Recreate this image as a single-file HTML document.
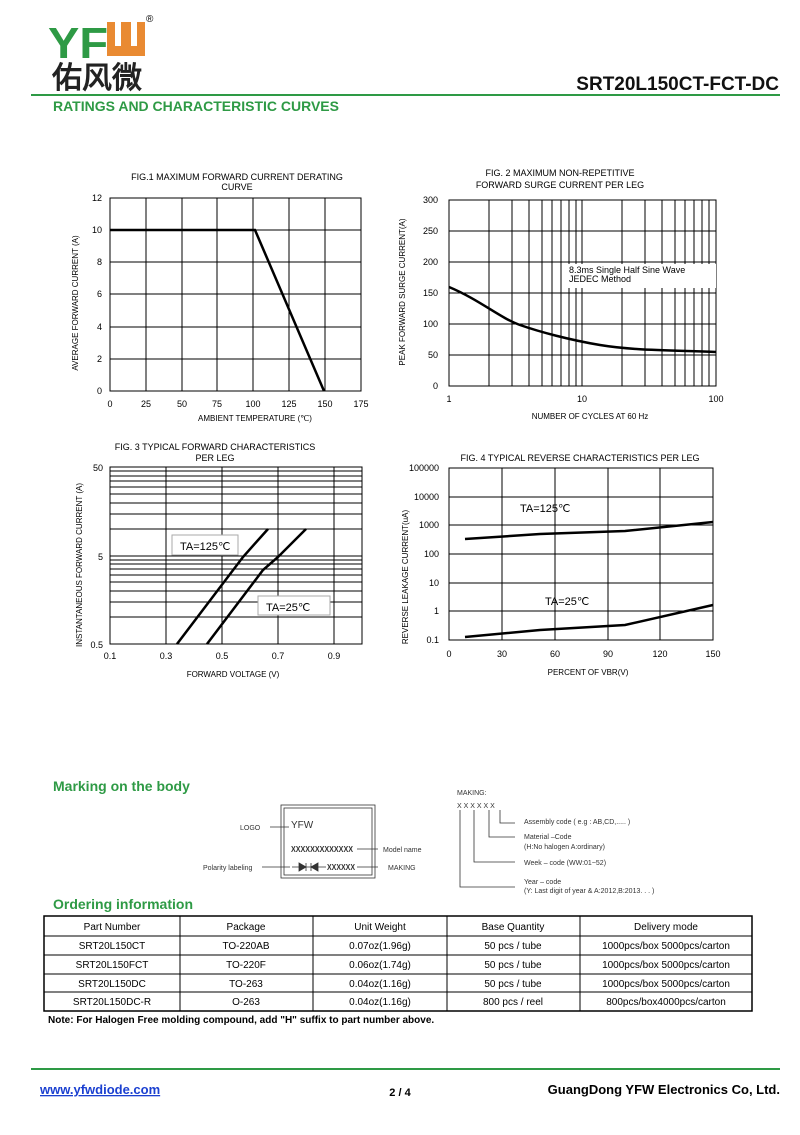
<!DOCTYPE html>
<html><head><meta charset="utf-8"><style>
body{margin:0;background:#fff}
svg text{font-family:"Liberation Sans",Arial,sans-serif}
</style></head><body>
<svg width="800" height="1130" viewBox="0 0 800 1130" xmlns="http://www.w3.org/2000/svg">
<!-- header -->
<text x="48" y="58" font-size="44" font-weight="bold" fill="#2e9a45" textLength="60" lengthAdjust="spacingAndGlyphs">YF</text>
<rect x="107" y="22" width="38" height="34" fill="#e98a32"/>
<rect x="115" y="22" width="6" height="24" fill="#fff"/><rect x="131" y="22" width="6" height="24" fill="#fff"/>
<text x="146" y="22" font-size="10">®</text>
<text x="52" y="88" font-size="30" font-family="'Noto Sans CJK SC',sans-serif" font-weight="bold" fill="#222">佑风微</text>
<text x="779" y="90" font-size="19" font-weight="bold" text-anchor="end" fill="#111">SRT20L150CT-FCT-DC</text>
<line x1="31" y1="95" x2="780" y2="95" stroke="#2e9a45" stroke-width="2"/>
<text x="53" y="111" font-size="14" font-weight="bold" fill="#2e9a45">RATINGS AND CHARACTERISTIC CURVES</text>

<g font-size="9" fill="#000" stroke-linecap="butt">
<!-- FIG1 -->
<text x="237" y="180" text-anchor="middle">FIG.1 MAXIMUM FORWARD CURRENT DERATING</text>
<text x="237" y="190" text-anchor="middle">CURVE</text>
<g stroke="#000" stroke-width="1" fill="none">
<rect x="110" y="198" width="251" height="193"/>
<path d="M146 198V391M182 198V391M217 198V391M253 198V391M289 198V391M325 198V391M110 230H361M110 262H361M110 294H361M110 327H361M110 359H361"/>
</g>
<path d="M110 230H255L324 391" stroke="#000" stroke-width="2.5" fill="none"/>
<g text-anchor="end"><text x="102" y="201">12</text><text x="102" y="233">10</text><text x="102" y="265">8</text><text x="102" y="297">6</text><text x="102" y="330">4</text><text x="102" y="362">2</text><text x="102" y="394">0</text></g>
<g text-anchor="middle"><text x="110" y="407">0</text><text x="146" y="407">25</text><text x="182" y="407">50</text><text x="217" y="407">75</text><text x="253" y="407">100</text><text x="289" y="407">125</text><text x="325" y="407">150</text><text x="361" y="407">175</text>
<text x="255" y="421" font-size="8">AMBIENT TEMPERATURE (℃)</text></g>
<text transform="translate(78 303) rotate(-90)" text-anchor="middle" font-size="8">AVERAGE FORWARD CURRENT (A)</text>

<!-- FIG2 -->
<text x="560" y="176" text-anchor="middle">FIG. 2 MAXIMUM NON-REPETITIVE</text>
<text x="560" y="188" text-anchor="middle">FORWARD SURGE CURRENT PER LEG</text>
<g stroke="#000" stroke-width="1" fill="none">
<rect x="449" y="200" width="267" height="186"/>
<path d="M489 200V386M512 200V386M529 200V386M542 200V386M552 200V386M561 200V386M569 200V386M576 200V386M582 200V386M622 200V386M645 200V386M662 200V386M675 200V386M685 200V386M694 200V386M702 200V386M709 200V386M449 231H716M449 262H716M449 293H716M449 324H716M449 355H716"/>
</g>
<rect x="566" y="264" width="150" height="24" fill="#fff"/>
<text x="569" y="273">8.3ms Single Half Sine Wave</text>
<text x="569" y="282">JEDEC Method</text>
<path d="M449 287C480 300 500 318 520 325S570 340 600 345S660 350 716 352" stroke="#000" stroke-width="2.5" fill="none"/>
<g text-anchor="end"><text x="438" y="203">300</text><text x="438" y="234">250</text><text x="438" y="265">200</text><text x="438" y="296">150</text><text x="438" y="327">100</text><text x="438" y="358">50</text><text x="438" y="389">0</text></g>
<g text-anchor="middle"><text x="449" y="402">1</text><text x="582" y="402">10</text><text x="716" y="402">100</text><text x="590" y="419" font-size="8">NUMBER OF CYCLES AT 60 Hz</text></g>
<text transform="translate(405 292) rotate(-90)" text-anchor="middle" font-size="8">PEAK FORWARD SURGE CURRENT(A)</text>

<!-- FIG3 -->
<text x="215" y="450" text-anchor="middle">FIG. 3 TYPICAL FORWARD CHARACTERISTICS</text>
<text x="215" y="461" text-anchor="middle">PER LEG</text>
<g stroke="#000" stroke-width="1" fill="none">
<rect x="110" y="467" width="252" height="177"/>
<path d="M166 467V644M222 467V644M278 467V644M334 467V644M110 471H362M110 476H362M110 481H362M110 487H362M110 494H362M110 503H362M110 514H362M110 529H362M110 556H362M110 560H362M110 564H362M110 569H362M110 575H362M110 582H362M110 591H362M110 602H362M110 617H362"/>
</g>
<path d="M177 644L243 557L268 529M207 644L263 570L278 557L306 529" stroke="#000" stroke-width="2.5" fill="none"/>
<rect x="172" y="535" width="66" height="20" fill="#fff" stroke="#aaa"/><text x="180" y="550" font-size="11">TA=125℃</text>
<rect x="258" y="596" width="72" height="19" fill="#fff" stroke="#aaa"/><text x="266" y="611" font-size="11">TA=25℃</text>
<g text-anchor="end"><text x="103" y="471">50</text><text x="103" y="560">5</text><text x="103" y="648">0.5</text></g>
<g text-anchor="middle"><text x="110" y="659">0.1</text><text x="166" y="659">0.3</text><text x="222" y="659">0.5</text><text x="278" y="659">0.7</text><text x="334" y="659">0.9</text><text x="233" y="677" font-size="8">FORWARD VOLTAGE (V)</text></g>
<text transform="translate(82 565) rotate(-90)" text-anchor="middle" font-size="8">INSTANTANEOUS FORWARD CURRENT (A)</text>

<!-- FIG4 -->
<text x="580" y="461" text-anchor="middle">FIG. 4 TYPICAL REVERSE CHARACTERISTICS PER LEG</text>
<g stroke="#000" stroke-width="1" fill="none">
<rect x="449" y="468" width="264" height="172"/>
<path d="M502 468V640M555 468V640M608 468V640M660 468V640M449 497H713M449 525H713M449 554H713M449 583H713M449 611H713"/>
</g>
<path d="M465 539L540 534L625 531L713 522M465 637L540 630L625 625L713 605" stroke="#000" stroke-width="2.5" fill="none"/>
<text x="520" y="512" font-size="11">TA=125℃</text><text x="545" y="605" font-size="11">TA=25℃</text>
<g text-anchor="end"><text x="439" y="471">100000</text><text x="439" y="500">10000</text><text x="439" y="528">1000</text><text x="439" y="557">100</text><text x="439" y="586">10</text><text x="439" y="614">1</text><text x="439" y="643">0.1</text></g>
<g text-anchor="middle"><text x="449" y="657">0</text><text x="502" y="657">30</text><text x="555" y="657">60</text><text x="608" y="657">90</text><text x="660" y="657">120</text><text x="713" y="657">150</text><text x="588" y="675" font-size="8">PERCENT OF VBR(V)</text></g>
<text transform="translate(408 577) rotate(-90)" text-anchor="middle" font-size="8">REVERSE LEAKAGE CURRENT(uA)</text>
</g>

<!-- marking -->
<text x="53" y="791" font-size="14" font-weight="bold" fill="#2e9a45">Marking on the body</text>
<g font-size="7" fill="#333" stroke="#333" stroke-width="0.8">
<rect x="281" y="805" width="94" height="73" fill="none"/><rect x="284" y="808" width="88" height="67" fill="none"/>
<text x="291" y="828" font-size="10" stroke="none">YFW</text>
<text x="291" y="852" stroke="none" font-size="8" font-weight="bold" textLength="62" lengthAdjust="spacingAndGlyphs">XXXXXXXXXXXXX</text>
<text x="327" y="870" stroke="none" font-size="8" font-weight="bold" textLength="28" lengthAdjust="spacingAndGlyphs">XXXXXX</text>
<line x1="292" y1="867" x2="326" y2="867"/>
<path d="M299 863V871L306 867ZM306 863V871M318 863V871L311 867ZM311 863V871" fill="#333"/>
<line x1="270" y1="827" x2="289" y2="827"/><text x="240" y="830" stroke="none">LOGO</text>
<line x1="262" y1="867" x2="290" y2="867"/><text x="203" y="870" stroke="none">Polarity labeling</text>
<line x1="357" y1="849" x2="378" y2="849"/><text x="383" y="852" stroke="none">Model name</text>
<line x1="357" y1="867" x2="378" y2="867"/><text x="388" y="870" stroke="none">MAKING</text>
<text x="457" y="795" stroke="none">MAKING:</text>
<text x="457" y="808" stroke="none">X X X X X X</text>
<path d="M460 810V887H515M474 810V862H515M489 810V837H515M500 810V823H515" fill="none"/>
<text x="524" y="824" stroke="none">Assembly code ( e.g : AB,CD,..... )</text>
<text x="524" y="839" stroke="none">Material –Code</text><text x="524" y="849" stroke="none">(H:No halogen   A:ordinary)</text>
<text x="524" y="865" stroke="none">Week – code (WW:01~52)</text>
<text x="524" y="884" stroke="none">Year – code</text><text x="524" y="893" stroke="none">(Y: Last digit of year &amp; A:2012,B:2013. . . )</text>
</g>

<!-- ordering -->
<text x="53" y="909" font-size="14" font-weight="bold" fill="#2e9a45">Ordering information</text>
<g stroke="#000" fill="none" stroke-width="1">
<rect x="44" y="916" width="708" height="95" stroke-width="1.5"/>
<path d="M44 936H752M44 955H752M44 974H752M44 992H752M180 916V1011M313 916V1011M447 916V1011M580 916V1011"/>
</g>
<g font-size="10" text-anchor="middle">
<text x="112" y="930">Part Number</text><text x="246" y="930">Package</text><text x="380" y="930">Unit Weight</text><text x="513" y="930">Base Quantity</text><text x="666" y="930">Delivery mode</text>
<text x="112" y="949">SRT20L150CT</text><text x="246" y="949">TO-220AB</text><text x="380" y="949">0.07oz(1.96g)</text><text x="513" y="949">50 pcs / tube</text><text x="666" y="949">1000pcs/box 5000pcs/carton</text>
<text x="112" y="968">SRT20L150FCT</text><text x="246" y="968">TO-220F</text><text x="380" y="968">0.06oz(1.74g)</text><text x="513" y="968">50 pcs / tube</text><text x="666" y="968">1000pcs/box 5000pcs/carton</text>
<text x="112" y="987">SRT20L150DC</text><text x="246" y="987">TO-263</text><text x="380" y="987">0.04oz(1.16g)</text><text x="513" y="987">50 pcs / tube</text><text x="666" y="987">1000pcs/box 5000pcs/carton</text>
<text x="112" y="1005">SRT20L150DC-R</text><text x="246" y="1005">O-263</text><text x="380" y="1005">0.04oz(1.16g)</text><text x="513" y="1005">800 pcs / reel</text><text x="666" y="1005">800pcs/box4000pcs/carton</text>
</g>
<text x="48" y="1023" font-size="10" font-weight="bold">Note: For Halogen Free molding compound, add "H" suffix to part number above.</text>

<!-- footer -->
<line x1="31" y1="1069" x2="780" y2="1069" stroke="#2e9a45" stroke-width="2"/>
<text x="40" y="1094" font-size="13" font-weight="bold" fill="#1a3fd0" text-decoration="underline">www.yfwdiode.com</text>
<text x="400" y="1096" font-size="11" font-weight="bold" text-anchor="middle">2 / 4</text>
<text x="780" y="1094" font-size="13" font-weight="bold" text-anchor="end">GuangDong YFW Electronics Co, Ltd.</text>
</svg>
</body></html>
